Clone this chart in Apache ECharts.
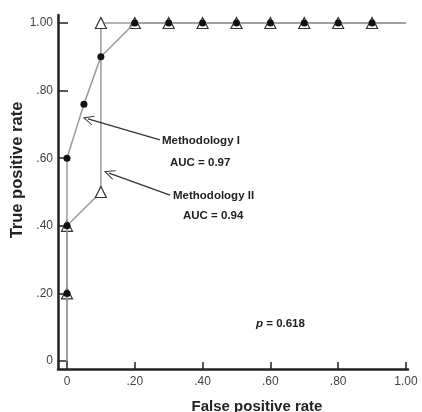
<!DOCTYPE html>
<html>
<head>
<meta charset="utf-8">
<script src="https://cdn.jsdelivr.net/npm/echarts@6/dist/echarts.min.js"></script>
<style>
  html, body { margin: 0; padding: 0; background: #fff; }
  #chart { width: 422px; height: 412px; }
</style>
</head>
<body>
<div id="chart"></div>
<script>
  // ROC curves, false positive rate vs true positive rate
  var methodOne = [[0, 0], [0, 0.2], [0, 0.4], [0, 0.6], [0.05, 0.76], [0.1, 0.9], [0.2, 1], [0.3, 1], [0.4, 1], [0.5, 1], [0.6, 1], [0.7, 1], [0.8, 1], [0.9, 1], [1, 1]];
  var methodTwo = [[0, 0], [0, 0.2], [0, 0.4], [0.1, 0.5], [0.1, 1], [0.2, 1], [0.3, 1], [0.4, 1], [0.5, 1], [0.6, 1], [0.7, 1], [0.8, 1], [0.9, 1], [1, 1]];
  var tickValues = [0, 0.2, 0.4, 0.6, 0.8, 1];
  var tickLabels = ['0', '.20', '.40', '.60', '.80', '1.00'];
  // arrows from the notes to the curves: [from, to]
  var arrowOne = [[0.274, 0.654], [0.062, 0.716]];
  var arrowTwo = [[0.304, 0.491], [0.124, 0.556]];

  function tickLabel(v) {
    for (var i = 0; i < tickValues.length; i++) {
      if (Math.abs(tickValues[i] - v) < 1e-6) return tickLabels[i];
    }
    return '';
  }

  // no marker on the end points (0,0) and (1,1)
  function toData(arr) {
    return arr.map(function (p, i) {
      if (i === 0 || i === arr.length - 1) return { value: p, symbol: 'none' };
      return p;
    });
  }

  var chart = echarts.init(document.getElementById('chart'));
  var font = 'Arial, "Liberation Sans", sans-serif';
  var chevron = 'path://M0,0 L5,11 L4,11 L0,2.5 L-4,11 L-5,11 Z';

  var option = {
    animation: false,
    grid: { left: 58, right: 14, top: 15, bottom: 43, outerBoundsMode: 'none', containLabel: false },
    xAxis: {
      type: 'value',
      min: -0.0265,
      max: 1.006,
      name: 'False positive rate',
      nameLocation: 'middle',
      nameGap: 30,
      nameTextStyle: { fontFamily: font, fontWeight: 'bold', fontSize: 15, color: '#222', padding: [0, 0, 0, 48] },
      axisLine: { onZero: false, lineStyle: { color: '#222', width: 2.5 } },
      axisTick: { show: true, inside: true, length: 7, customValues: tickValues, lineStyle: { color: '#222', width: 1.5 } },
      axisLabel: { customValues: tickValues, formatter: tickLabel, color: '#444', fontSize: 12, fontFamily: font, margin: 7 },
      splitLine: { show: false }
    },
    yAxis: {
      type: 'value',
      min: -0.0237,
      max: 1.0237,
      axisLine: { onZero: false, lineStyle: { color: '#222', width: 2.5 } },
      axisTick: { show: true, inside: true, length: 10, customValues: tickValues, lineStyle: { color: '#222', width: 1.5 } },
      axisLabel: { customValues: tickValues, formatter: tickLabel, color: '#444', fontSize: 12, fontFamily: font, margin: 5 },
      splitLine: { show: false }
    },
    series: [
      {
        name: 'Methodology II',
        type: 'line',
        data: toData(methodTwo),
        symbol: 'triangle',
        symbolSize: 11,
        showAllSymbol: true,
        lineStyle: { color: '#9a9a9a', width: 1.5 },
        itemStyle: { color: '#fff', borderColor: '#333', borderWidth: 1.2 },
        z: 2,
        markLine: {
          silent: true,
          symbol: ['none', chevron],
          symbolSize: [10, 11],
          label: { show: false },
          lineStyle: { color: '#333', width: 1.3, type: 'solid' },
          data: [
            [{ coord: arrowOne[0] }, { coord: arrowOne[1] }],
            [{ coord: arrowTwo[0] }, { coord: arrowTwo[1] }]
          ]
        }
      },
      {
        name: 'Methodology I',
        type: 'line',
        data: toData(methodOne),
        symbol: 'circle',
        symbolSize: 7,
        showAllSymbol: true,
        lineStyle: { color: '#9a9a9a', width: 1.5 },
        itemStyle: { color: '#111', borderWidth: 0 },
        z: 3
      }
    ],
    graphic: [
      {
        type: 'text', x: 17, y: 170, rotation: Math.PI / 2,
        style: { text: 'True positive rate', font: 'bold 16.5px ' + font, fill: '#222', align: 'center', verticalAlign: 'middle' }
      },
      { type: 'text', left: 162, top: 135, style: { text: 'Methodology I', font: 'bold 11.5px ' + font, fill: '#222' } },
      { type: 'text', left: 170, top: 157, style: { text: 'AUC = 0.97', font: 'bold 11.5px ' + font, fill: '#222' } },
      { type: 'text', left: 173, top: 190, style: { text: 'Methodology II', font: 'bold 11.5px ' + font, fill: '#222' } },
      { type: 'text', left: 183, top: 210, style: { text: 'AUC = 0.94', font: 'bold 11.5px ' + font, fill: '#222' } },
      {
        type: 'text', left: 256, top: 318,
        style: {
          text: '{i|p} = 0.618',
          font: 'bold 11.5px ' + font,
          fill: '#222',
          rich: { i: { fontStyle: 'italic', fontWeight: 'bold', fontSize: 11.5, fontFamily: font, fill: '#222' } }
        }
      }
    ]
  };
  chart.setOption(option);
</script>
</body>
</html>
